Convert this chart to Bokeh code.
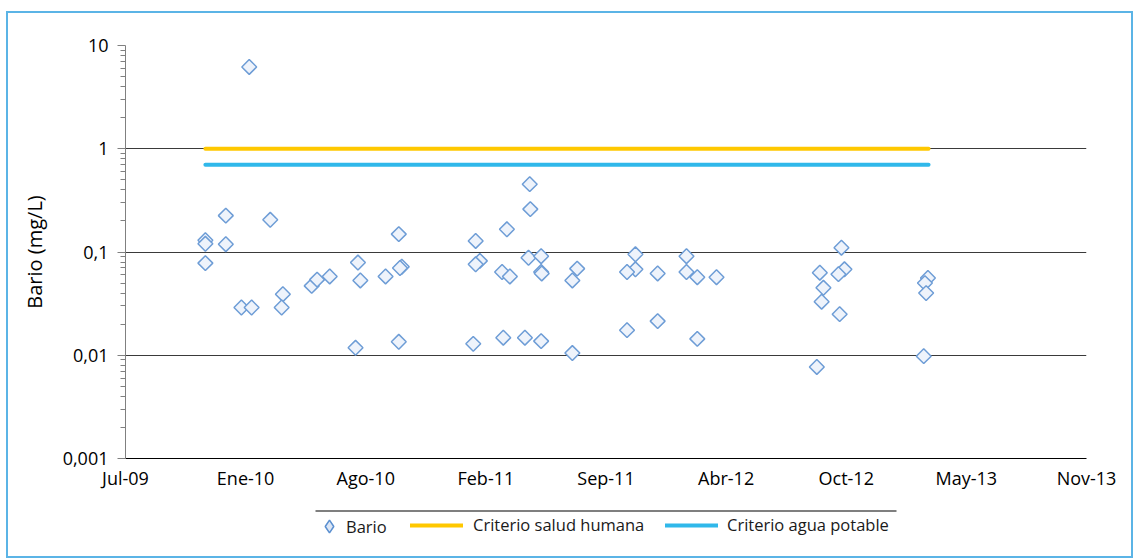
import math
import pandas as pd
from bokeh.plotting import figure
from bokeh.layouts import column
from bokeh.models import (Range1d, FixedTicker, CustomJSTickFormatter, Legend,
                          LegendItem, BoxAnnotation, ColumnDataSource)
from bokeh.embed import file_html
from bokeh.resources import INLINE

# ---------------- data ----------------
sample_dates = [
    "2009-11-16", "2009-11-16", "2009-11-16", "2009-12-20", "2009-12-20",
    "2010-01-15", "2010-01-28", "2010-02-01", "2010-03-04", "2010-03-25",
    "2010-03-23", "2010-05-12", "2010-05-21", "2010-06-11", "2010-07-28",
    "2010-08-01", "2010-07-24", "2010-09-12", "2010-10-04", "2010-10-09",
    "2010-10-06", "2010-10-04",
    "2011-05-10", "2011-05-11", "2011-04-02", "2011-02-09", "2011-02-16",
    "2011-02-09", "2011-03-25", "2011-04-07", "2011-05-08", "2011-05-29",
    "2011-05-29", "2011-05-30", "2011-07-28", "2011-07-20", "2011-02-05",
    "2011-03-27", "2011-05-02", "2011-05-29", "2011-07-20",
    "2011-11-02", "2011-11-02", "2011-10-19", "2011-12-09", "2011-10-19",
    "2011-12-09", "2012-01-26", "2012-01-26", "2012-02-13", "2012-03-16",
    "2012-02-13",
    "2012-10-10", "2012-09-04", "2012-10-15", "2012-10-05", "2012-09-10",
    "2012-09-07", "2012-10-07", "2012-08-30",
    "2013-03-03", "2013-02-26", "2013-02-28", "2013-02-24",
]
bario = [
    0.13, 0.12, 0.078, 0.225, 0.119,
    0.029, 6.2, 0.029, 0.205, 0.039,
    0.029, 0.047, 0.054, 0.058, 0.079,
    0.053, 0.0118, 0.058, 0.149, 0.072,
    0.070, 0.0135,
    0.454, 0.26, 0.166, 0.128, 0.082,
    0.076, 0.064, 0.058, 0.088, 0.091,
    0.064, 0.062, 0.069, 0.053, 0.0129,
    0.0148, 0.0148, 0.0137, 0.0105,
    0.095, 0.068, 0.064, 0.062, 0.0175,
    0.0214, 0.091, 0.064, 0.057, 0.057,
    0.0144,
    0.11, 0.063, 0.068, 0.061, 0.045,
    0.033, 0.025, 0.0077,
    0.056, 0.050, 0.040, 0.0098,
]
criterio_dates = ["2009-11-16", "2013-03-04"]
criterio_salud_humana = [1.0, 1.0]
criterio_agua_potable = [0.7, 0.7]

x_tick_start = "2009-07-06"
x_tick_step_days = 200
x_tick_labels = ["Jul-09", "Ene-10", "Ago-10", "Feb-11", "Sep-11",
                 "Abr-12", "Oct-12", "May-13", "Nov-13"]
y_ticks = [0.001, 0.01, 0.1, 1, 10]
y_tick_labels = ["0,001", "0,01", "0,1", "1", "10"]

# ---------------- styling ----------------
FONT = "Open Sans"
TICK_FS = "18px"
MARK_FILL = "#EEF3FB"
MARK_LINE = "#6E9DD6"
YELLOW = "#FFC800"
BLUE = "#30B8EA"

x_ticks = [pd.Timestamp(x_tick_start) + pd.Timedelta(days=x_tick_step_days * i)
           for i in range(len(x_tick_labels))]
x_tick_ms = [t.value / 1e6 for t in x_ticks]

W = 1127           # whole chart is shifted by (6, 11) inside the window
H_MAIN = 490
H_LEG = 547 - H_MAIN
BL, BR = 119, 47   # frame spans x = 125 .. 1086 in the window

p = figure(width=W, height=H_MAIN, output_backend="svg", toolbar_location=None,
           x_axis_type="datetime", y_axis_type="log",
           x_range=Range1d(x_ticks[0], x_ticks[-1]),
           y_range=Range1d(y_ticks[0], y_ticks[-1]),
           min_border_left=BL, min_border_right=BR,
           min_border_top=34, min_border_bottom=H_MAIN - 447)
p.outline_line_color = None
p.background_fill_alpha = 0
p.border_fill_alpha = 0

src = ColumnDataSource(dict(x=pd.to_datetime(sample_dates), y=bario))
p.scatter("x", "y", source=src, marker="square", angle=math.pi / 4,
          size=10.5, fill_color=MARK_FILL, line_color=MARK_LINE, line_width=1.5)

cd = pd.to_datetime(criterio_dates)
p.line(cd, criterio_salud_humana, line_color=YELLOW, line_width=4, line_cap="round")
p.line(cd, criterio_agua_potable, line_color=BLUE, line_width=4, line_cap="round")

# axes
minor = [m * t for t in y_ticks[:-1] for m in range(2, 10)]
p.yaxis.ticker = FixedTicker(ticks=y_ticks, minor_ticks=minor)
p.yaxis.formatter = CustomJSTickFormatter(args=dict(tv=y_ticks, lb=y_tick_labels), code="""
let b = 0;
for (let i = 0; i < tv.length; i++) {
  if (Math.abs(Math.log10(tv[i]) - Math.log10(tick)) < Math.abs(Math.log10(tv[b]) - Math.log10(tick))) b = i;
}
return lb[b];
""")
p.xaxis.ticker = FixedTicker(ticks=x_tick_ms)
p.xaxis.formatter = CustomJSTickFormatter(args=dict(tv=x_tick_ms, lb=x_tick_labels), code="""
let b = 0;
for (let i = 0; i < tv.length; i++) {
  if (Math.abs(tv[i] - tick) < Math.abs(tv[b] - tick)) b = i;
}
return lb[b];
""")

for ax in (p.xaxis[0], p.yaxis[0]):
    ax.major_label_text_font = FONT
    ax.major_label_text_font_size = TICK_FS
    ax.major_label_text_color = "#000000"

ya = p.yaxis[0]
ya.axis_line_color = "#808080"
ya.major_tick_line_color = "#808080"
ya.minor_tick_line_color = "#808080"
ya.major_tick_out = 8
ya.major_tick_in = 0
ya.minor_tick_out = 5
ya.minor_tick_in = 0
ya.major_label_standoff = 9
ya.axis_label = "Bario (mg/L)"
ya.axis_label_text_font = FONT
ya.axis_label_text_font_size = "20px"
ya.axis_label_text_font_style = "normal"
ya.axis_label_text_color = "#000000"
ya.axis_label_standoff = 12

xa = p.xaxis[0]
xa.axis_line_color = "#000000"
xa.major_tick_out = 0
xa.major_tick_in = 0
xa.minor_tick_line_color = None
xa.major_label_standoff = 7

p.xgrid.grid_line_color = None
p.ygrid.ticker = FixedTicker(ticks=y_ticks[1:])
p.ygrid.grid_line_color = "#3a3a3a"
p.ygrid.grid_line_width = 1

# ---------------- legend strip (its own figure, so nothing is clipped) ----------------
# its frame lines up with the main frame; data units equal window pixels
leg = figure(width=W, height=H_LEG, output_backend="svg", toolbar_location=None,
             x_range=Range1d(125, 1086), y_range=Range1d(558, 558 - H_LEG),
             x_axis_location=None, y_axis_location=None,
             min_border_left=BL, min_border_right=BR,
             min_border_top=0, min_border_bottom=0)
leg.grid.visible = False
leg.outline_line_color = None
leg.background_fill_alpha = 0
leg.border_fill_alpha = 0

# legend renderers carry the real series; their data lies outside this strip's ranges
lr_bario = leg.scatter("x", "y", source=src, marker="diamond", size=10,
                       fill_color="#DCE6F5", line_color="#5A8FD0", line_width=1.5)
lr_salud = leg.line(cd, criterio_salud_humana, line_color=YELLOW, line_width=4,
                    line_cap="round")
lr_agua = leg.line(cd, criterio_agua_potable, line_color=BLUE, line_width=4,
                   line_cap="round")


def make_legend(label, r, x, y, gw, gh, standoff):
    lg = Legend(items=[LegendItem(label=label, renderers=[r])],
                location=(x - 125, y), orientation="horizontal",
                glyph_width=gw, glyph_height=gh, label_height=20,
                label_standoff=standoff, padding=0, margin=0, spacing=0,
                border_line_color=None, background_fill_alpha=0,
                label_text_font=FONT, label_text_font_size="16.5px",
                label_text_color="#1a1a1a")
    leg.add_layout(lg, "center")


make_legend("Bario", lr_bario, 313, 558 - 542, 32, 32, 1)
make_legend("Criterio salud humana", lr_salud, 410, 558 - 536, 53, 20, 10)
make_legend("Criterio agua potable", lr_agua, 665, 558 - 536, 53, 20, 9)

leg.add_layout(BoxAnnotation(left=315, right=896, top=510, bottom=511,
                             fill_color="#000000", fill_alpha=1, line_color=None))

layout = column(p, leg, spacing=0,
                styles={"transform": "translate(6px, 11px)",
                        "background-color": "white",
                        "outline": "2px solid #5BB4E6",
                        "outline-offset": "-2px"})

open("out.html", "w").write(file_html(layout, INLINE))
